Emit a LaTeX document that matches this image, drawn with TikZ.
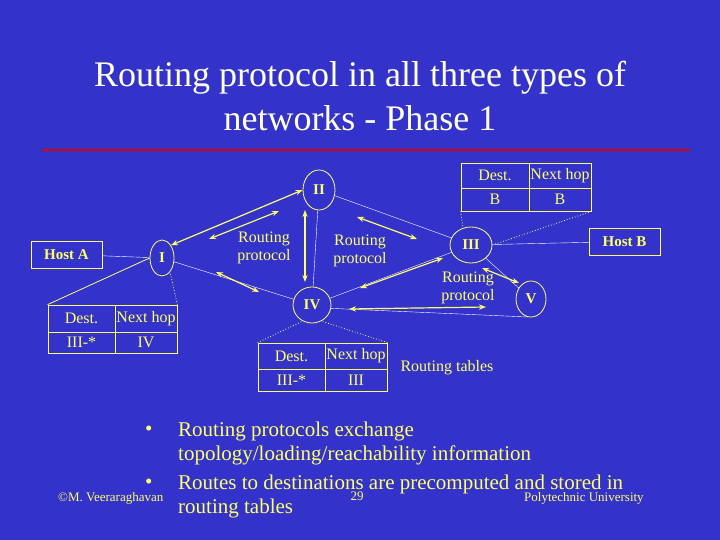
\documentclass[tikz,border=0pt]{standalone}
\usepackage{fontspec}
\setmainfont{Liberation Serif}
\usetikzlibrary{arrows.meta,shapes.geometric}
\definecolor{bg}{HTML}{3333CC}
\definecolor{yl}{HTML}{FFFF66}
\definecolor{ttl}{HTML}{FFFFDD}
\begin{document}
\begin{tikzpicture}[x=1pt,y=-1pt,
  rt/.style={ellipse,draw=yl,thick,text=yl,font=\fontsize{15}{15}\selectfont\bfseries,inner sep=0pt},
  hbox/.style={draw=yl,thick,text=yl,font=\fontsize{15}{15}\selectfont\bfseries,inner sep=0pt},
  cell/.style={draw=yl,thick,text=yl,font=\fontsize{16}{16}\selectfont,inner sep=0pt},
  lbl/.style={text=yl,font=\fontsize{16}{18}\selectfont,align=center},
  wl/.style={draw=white,thin},
  ya/.style={draw=yl,very thick,{Stealth[length=7pt]}-{Stealth[length=7pt]}},
  dl/.style={draw=yl,thick,dotted},
  txt/.style={text=yl,font=\fontsize{21}{21}\selectfont,anchor=west,inner sep=0pt}]
\useasboundingbox (0,0) rectangle (720,540);
\fill[bg] (0,0) rectangle (720,540);
\node[text=ttl,font=\fontsize{36}{44}\selectfont,align=center] (title) at (360,96) {Routing protocol in all three types of\\networks - Phase 1};
\coordinate (r1) at (42,150); \coordinate (r2) at (690,150);
\draw[red!85!black,line width=2pt] (r1) -- (r2);
% routers
\node[rt,minimum width=32pt,minimum height=40pt] (II) at (319,190) {II};
\node[rt,minimum width=24pt,minimum height=36pt] (I) at (162,258) {I};
\node[rt,minimum width=42pt,minimum height=36pt] (III) at (471,245) {III};
\node[rt,minimum width=38pt,minimum height=36pt] (IV) at (312,305) {IV};
\node[rt,minimum width=30pt,minimum height=36pt] (V) at (531,299) {V};
\node[hbox,minimum width=71pt,minimum height=27pt] (HA) at (66.5,254.5) {Host A};
\node[hbox,minimum width=71pt,minimum height=27pt] (HB) at (624.5,241.5) {Host B};
% white links
\draw[wl] (HA) -- (I);
\draw[wl] (I) -- (IV);
\draw[wl] (II) -- (IV);
\draw[wl] (II) -- (III);
\draw[wl] (IV) -- (III);
\draw[wl] (IV.-10) -- (V.-100);
\draw[wl] (III) -- (V);
\draw[wl] (III) -- (HB);
% tables
\node[cell,minimum width=67pt,minimum height=27pt] (t1a) at (81.5,318.5) {Dest.};
\node[cell,minimum width=62pt,minimum height=27pt] (t1b) at (146,318.5) {Next hop};
\node[cell,minimum width=67pt,minimum height=21pt] (t1c) at (81.5,342.5) {III-*};
\node[cell,minimum width=62pt,minimum height=21pt] (t1d) at (146,342.5) {IV};
\node[cell,minimum width=67pt,minimum height=26pt] (t4a) at (291.5,356) {Dest.};
\node[cell,minimum width=62pt,minimum height=26pt] (t4b) at (356,356) {Next hop};
\node[cell,minimum width=67pt,minimum height=22pt] (t4c) at (291.5,380) {III-*};
\node[cell,minimum width=62pt,minimum height=22pt] (t4d) at (356,380) {III};
\node[cell,minimum width=68pt,minimum height=25pt] (t3a) at (495,175.5) {Dest.};
\node[cell,minimum width=62pt,minimum height=25pt] (t3b) at (560,175.5) {Next hop};
\node[cell,minimum width=68pt,minimum height=23pt] (t3c) at (495,199.5) {B};
\node[cell,minimum width=62pt,minimum height=23pt] (t3d) at (560,199.5) {B};
% table callouts
\draw[draw=yl,thick] (t1a.north west) -- (I.west);
\draw[dl] (t1b.north east) -- (I.-60);
\draw[dl] (t4a.north west) -- (IV.-120);
\draw[dl] (t4b.north east) -- (IV.-60);
\draw[dl] (t3c.south west) -- (III.115);
\draw[dl] (t3d.south east) -- (III.east);
% yellow arrows
\draw[ya] (I.55) -- (II.west);
\coordinate (a1) at (209,239); \coordinate (a2) at (279,211); \draw[ya] (a1) -- (a2);
\coordinate (b1) at (305,210); \coordinate (b2) at (305,282); \draw[ya] (b1) -- (b2);
\coordinate (c1) at (357,217); \coordinate (c2) at (417,239); \draw[ya] (c1) -- (c2);
\coordinate (d1) at (216,272); \coordinate (d2) at (259,292); \draw[ya] (d1) -- (d2);
\coordinate (e1) at (360,288); \coordinate (e2) at (443,258); \draw[ya] (e1) -- (e2);
\coordinate (f1) at (349,309); \coordinate (f2) at (486,307); \draw[ya] (f1) -- (f2);
\coordinate (g1) at (482,268); \coordinate (g2) at (519,283); \draw[ya] (g1) -- (g2);
% labels
\node[lbl] (p1) at (264,248) {Routing\\protocol};
\node[lbl] (p2) at (360,251) {Routing\\protocol};
\node[lbl] (p3) at (468,288) {Routing\\protocol};
\node[lbl,anchor=west] (rtl) at (397,368) {Routing tables};
% bullets
\node[txt] (bu1) at (145,431) {•};
\node[txt] (b1t) at (178,431) {Routing protocols exchange};
\node[txt] (b1u) at (178,455) {topology/loading/reachability information};
\node[txt] (bu2) at (145,484) {•};
\node[txt] (b2t) at (178,484) {Routes to destinations are precomputed and stored in};
\node[txt] (b2u) at (178,508) {routing tables};
% footer
\node[text=yl,font=\fontsize{13}{13}\selectfont,anchor=west,inner sep=0pt] (ft1) at (58,498) {©M. Veeraraghavan};
\node[text=yl,font=\fontsize{13}{13}\selectfont,inner sep=0pt] (ft2) at (357,496) {29};
\node[text=yl,font=\fontsize{13}{13}\selectfont,anchor=west,inner sep=0pt] (ft3) at (524,498) {Polytechnic University};
\end{tikzpicture}
\end{document}
